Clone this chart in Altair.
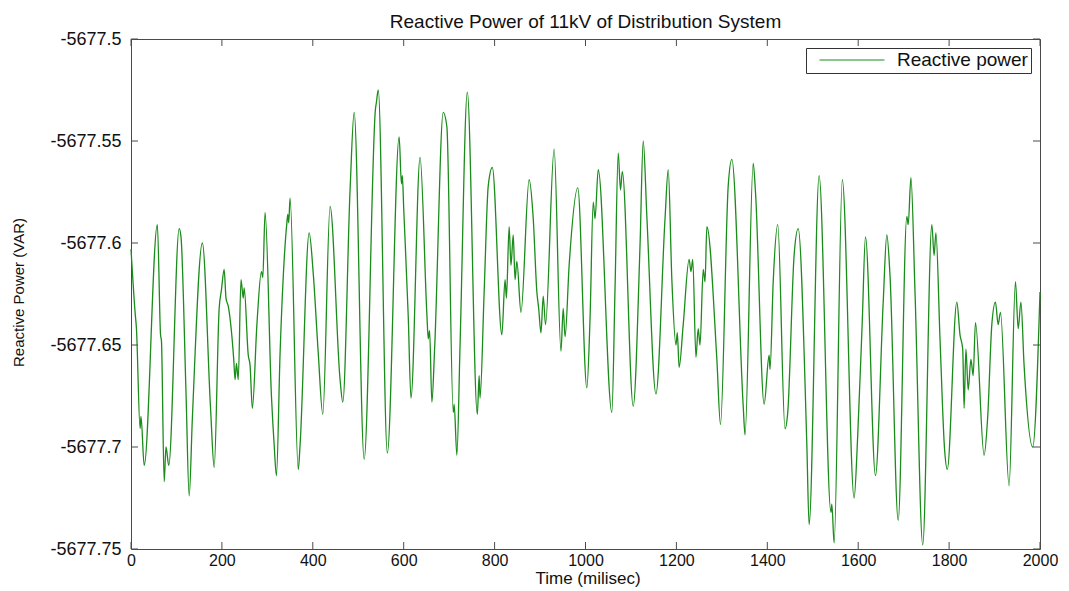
import altair as alt
import pandas as pd

# ---- data ----
TIME_MS = [
    0, 9, 12, 20, 22, 29, 58, 65, 67, 73, 77, 83, 106, 110, 121, 128, 135, 157, 175, 183,
    194, 199, 205, 209, 214, 226, 229, 232, 236, 242, 247, 249, 258, 262, 267, 277, 287, 290, 295, 309,
    315, 320,
    328, 343, 345, 347, 350, 368, 372, 392, 401, 412, 422, 438, 460, 466, 482, 491, 513, 538,
    540, 544, 564, 590, 595, 597, 600, 610, 616, 636, 651, 654, 657, 662, 668,
    687, 695, 709, 711, 717, 724, 740, 762, 766, 768, 777, 786, 795, 816, 823, 826, 832, 836, 841, 845,
    849, 858, 876, 885, 893, 897, 902, 907, 912, 931, 946, 951, 955, 964, 983, 1003,
    1010, 1017, 1021, 1028, 1058, 1065, 1072, 1077, 1081, 1105, 1120, 1127, 1135, 1155, 1175, 1182, 1190, 1199, 1202, 1206,
    1215, 1228, 1232, 1236, 1243, 1248, 1252, 1259, 1263, 1267, 1289, 1297, 1314, 1322, 1347, 1351,
    1369, 1374, 1393, 1404, 1406, 1413, 1423, 1439, 1445, 1459, 1468, 1487, 1492, 1514, 1540, 1542, 1547, 1565, 1591, 1599,
    1609, 1616, 1638, 1655, 1663, 1670, 1688,
    1707, 1710, 1716, 1725, 1742, 1762, 1767, 1771, 1780, 1790, 1796, 1817, 1824, 1830, 1833, 1837, 1842, 1848, 1853, 1858,
    1877, 1885, 1894, 1902, 1908, 1913, 1932, 1946, 1952, 1958, 1965, 1984, 2000,
]
REACTIVE_VAR = [
    -5677.603, -5677.634, -5677.642, -5677.691, -5677.685, -5677.709, -5677.591, -5677.645, -5677.648, -5677.717,
    -5677.700, -5677.709, -5677.593, -5677.597, -5677.673, -5677.724, -5677.686, -5677.600, -5677.681, -5677.710,
    -5677.632, -5677.623, -5677.613, -5677.627, -5677.631, -5677.657, -5677.667, -5677.659, -5677.667, -5677.618,
    -5677.627, -5677.622, -5677.655, -5677.660, -5677.681, -5677.640, -5677.614, -5677.617, -5677.585, -5677.675,
    -5677.699, -5677.714,
    -5677.654, -5677.590, -5677.586, -5677.590, -5677.578, -5677.711, -5677.699, -5677.595, -5677.615, -5677.654,
    -5677.684, -5677.582, -5677.667, -5677.678, -5677.574, -5677.536, -5677.706, -5677.534,
    -5677.531, -5677.525, -5677.703, -5677.548, -5677.571, -5677.567, -5677.583, -5677.636, -5677.676, -5677.558,
    -5677.635, -5677.647, -5677.643, -5677.678, -5677.652,
    -5677.536, -5677.543, -5677.683, -5677.679, -5677.704, -5677.650, -5677.526, -5677.684, -5677.665, -5677.676,
    -5677.624, -5677.572, -5677.563, -5677.645, -5677.618, -5677.627, -5677.592, -5677.611, -5677.596, -5677.618,
    -5677.609, -5677.634, -5677.569, -5677.588, -5677.624, -5677.632, -5677.644, -5677.626, -5677.640, -5677.554,
    -5677.653, -5677.632, -5677.646, -5677.611, -5677.573, -5677.671,
    -5677.637, -5677.580, -5677.588, -5677.564, -5677.683, -5677.622, -5677.556, -5677.574, -5677.565, -5677.680,
    -5677.601, -5677.550, -5677.587, -5677.674, -5677.588, -5677.564, -5677.618, -5677.650, -5677.644, -5677.661,
    -5677.640, -5677.608, -5677.614, -5677.608, -5677.656, -5677.642, -5677.650, -5677.613, -5677.619, -5677.592,
    -5677.657, -5677.689, -5677.572, -5677.559, -5677.680, -5677.694,
    -5677.561, -5677.575, -5677.679, -5677.655, -5677.662, -5677.619, -5677.591, -5677.691, -5677.683, -5677.606,
    -5677.593, -5677.699, -5677.738, -5677.567, -5677.732, -5677.728, -5677.747, -5677.569, -5677.725, -5677.694,
    -5677.638, -5677.597, -5677.714, -5677.629, -5677.596, -5677.616, -5677.736,
    -5677.587, -5677.591, -5677.568, -5677.624, -5677.748, -5677.591, -5677.606, -5677.595, -5677.647, -5677.701,
    -5677.711, -5677.629, -5677.645, -5677.652, -5677.681, -5677.652, -5677.672, -5677.657, -5677.665, -5677.639,
    -5677.704, -5677.685, -5677.640, -5677.629, -5677.640, -5677.634, -5677.719, -5677.619, -5677.642, -5677.629,
    -5677.660, -5677.700, -5677.624,
]
X_TICKS = [0, 200, 400, 600, 800, 1000, 1200, 1400, 1600, 1800, 2000]
Y_TICKS = [-5677.75, -5677.7, -5677.65, -5677.6, -5677.55, -5677.5]
SERIES = "Reactive power"
TITLE = "Reactive Power of 11kV of Distribution System"
X_TITLE = "Time (milisec)"
Y_TITLE = "Reactive Power (VAR)"

# ---- styling ----
W, H = 909, 510
FONT = "Liberation Sans"
FRAME = "#4a4a4a"
GREEN = "#1a8c1a"
TXT = "#111111"
TICK = 7

df = pd.DataFrame({"time": TIME_MS, "value": REACTIVE_VAR, "series": SERIES})
xt = pd.DataFrame({"time": X_TICKS})
yt = pd.DataFrame({"value": Y_TICKS})

xscale = alt.Scale(domain=[0, 2000], nice=False, zero=False)
yscale = alt.Scale(domain=[-5677.75, -5677.5], nice=False, zero=False)

xaxis = alt.Axis(
    values=X_TICKS, format="d", ticks=False, tickSize=0, domain=False, grid=False,
    labelFont=FONT, labelFontSize=16, labelColor=TXT, labelPadding=3,
    labelFlush=False, labelOverlap=False, labelBound=False,
    title=X_TITLE, titleFont=FONT, titleFontSize=17, titleFontWeight="normal",
    titleColor=TXT, titleY=21, titleBaseline="top", titleX=W / 2 + 2,
)
yaxis = alt.Axis(
    values=Y_TICKS, labelExpr="'-' + format(abs(datum.value), '.2~f')",
    ticks=False, tickSize=0, domain=False, grid=False,
    labelFont=FONT, labelFontSize=18, labelColor=TXT, labelPadding=10,
    labelOverlap=False, labelBound=False, labelFlush=False,
    title=Y_TITLE, titleFont=FONT, titleFontSize=15, titleFontWeight="normal",
    titleColor=TXT, titleX=-113, titleY=253, titleAngle=270,
    titleAlign="center", titleBaseline="middle",
)

line = alt.Chart(df).mark_line(interpolate="monotone", strokeWidth=1.3).encode(
    x=alt.X("time:Q", scale=xscale, axis=xaxis),
    y=alt.Y("value:Q", scale=yscale, axis=yaxis),
    color=alt.Color(
        "series:N",
        scale=alt.Scale(domain=[SERIES], range=[GREEN]),
        legend=alt.Legend(
            title=None, orient="top-right", offset=9, padding=3,
            fillColor="white", strokeColor="#333333", cornerRadius=0,
            symbolType="stroke", symbolSize=65 * 65, symbolStrokeWidth=1,
            symbolOffset=10, clipHeight=18,
            labelFont=FONT, labelFontSize=19, labelColor=TXT,
            labelOffset=12, labelLimit=400,
        ),
    ),
)

bottom_ticks = alt.Chart(xt).mark_rule(color=FRAME, strokeWidth=1).encode(
    x=alt.X("time:Q", scale=xscale, axis=xaxis),
    y=alt.value(H), y2=alt.value(H - TICK),
)
top_ticks = alt.Chart(xt).mark_rule(color=FRAME, strokeWidth=1).encode(
    x=alt.X("time:Q", scale=xscale, axis=xaxis),
    y=alt.value(0), y2=alt.value(TICK),
)
left_ticks = alt.Chart(yt).mark_rule(color=FRAME, strokeWidth=1).encode(
    y=alt.Y("value:Q", scale=yscale, axis=yaxis),
    x=alt.value(0), x2=alt.value(TICK),
)
right_ticks = alt.Chart(yt).mark_rule(color=FRAME, strokeWidth=1).encode(
    y=alt.Y("value:Q", scale=yscale, axis=yaxis),
    x=alt.value(W), x2=alt.value(W - TICK),
)

chart = alt.layer(line, bottom_ticks, top_ticks, left_ticks, right_ticks).properties(
    width=W,
    height=H,
    title=alt.TitleParams(
        TITLE, font=FONT, fontSize=19, fontWeight="normal", color=TXT,
        anchor="middle", offset=7, dy=9,
    ),
    padding={"left": 123, "top": 31, "right": 18, "bottom": 40},
    autosize=alt.AutoSizeParams(type="none"),
    background="white",
).configure_view(stroke=FRAME, strokeWidth=1)

chart.save("out.html", embed_options={"renderer": "svg", "actions": False})
